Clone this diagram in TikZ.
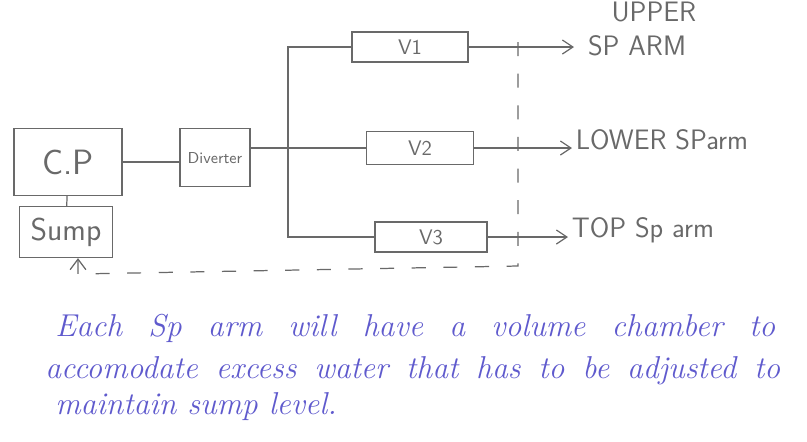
\documentclass[tikz,border=0pt]{standalone}
\usetikzlibrary{arrows.meta}
\definecolor{pencil}{RGB}{105,105,105}
\definecolor{ink}{RGB}{95,90,205}
\tikzset{
  box/.style={draw=pencil, line width=0.7pt, text=pencil, font=\sffamily, inner sep=2pt},
  line/.style={draw=pencil, line width=0.7pt},
  feed/.style={line, -{Straight Barb[length=6pt,width=8pt]}},
  ret/.style={line, dashed, dash pattern=on 8pt off 10pt, -{Straight Barb[length=6pt,width=9pt]}},
  lbl/.style={text=pencil, font=\sffamily\fontsize{16}{19}\selectfont, anchor=west, inner sep=2pt},
  note/.style={text=ink, font=\itshape\fontsize{18}{22}\selectfont, anchor=base west, inner sep=0pt}
}
\begin{document}
\begin{tikzpicture}[x=0.02cm, y=-0.02cm]
  \useasboundingbox (0,0) rectangle (807,441);

  % Pumpe und Sumpf
  \node[box, minimum width=2.16cm, minimum height=1.34cm, font=\sffamily\fontsize{20}{24}\selectfont] (CP) at (68,162) {C.P};
  \node[box, minimum width=1.86cm, minimum height=1.02cm, font=\sffamily\fontsize{18}{22}\selectfont] (Sump) at (66,232) {Sump};
  \draw[line] (CP) -- (Sump);

  % Verteiler
  \node[box, minimum width=1.4cm, minimum height=1.16cm, anchor=north, font=\sffamily\small] (Diverter) at (215,128) {Diverter};
  \draw[line] (CP.east) -- (Diverter.west |- CP.east);

  % Ventile
  \node[box, minimum width=2.32cm, minimum height=0.6cm, font=\sffamily\large] (V1) at (410,47) {V1};
  \node[box, minimum width=2.14cm, minimum height=0.66cm, font=\sffamily\large] (V2) at (420,148) {V2};
  \node[box, minimum width=2.24cm, minimum height=0.6cm, font=\sffamily\large] (V3) at (431,237) {V3};

  \coordinate (jV) at (288,148);
  \draw[line] (Diverter.east |- jV) -- (jV) -- (V2.west);
  \draw[line] (V1.west) -| (jV) |- (V3.west);

  % Sprueharme
  \node[lbl, align=center] (SpUp) at (574,29) {\hspace*{1.2em}UPPER\\SP ARM};
  \node[lbl] (SpLow) at (572,140) {LOWER SParm};
  \node[lbl] (SpTop) at (568,230) {TOP Sp arm};
  \draw[feed] (V1.east) -- (SpUp.west |- V1.east);
  \draw[feed] (V2.east) -- (SpLow.west |- V2.east);
  \draw[feed] (V3.east) -- (SpTop.west |- V3.east);

  % Rueckfuehrung zum Sumpf
  \coordinate (r1) at (518,42);
  \coordinate (r2) at (518,266);
  \coordinate (r3) at (78,274);
  \draw[ret] (r1) -- (r2) -- (r3) -- (Sump.south -| r3);

  % Notiz
  \node[note] (n1) at (55,336) {\makebox[14.4cm][s]{Each Sp arm will have a volume chamber to}};
  \node[note] (n2) at (45,378) {\makebox[14.7cm][s]{accomodate excess water that has to be adjusted to}};
  \node[note] (n3) at (55,414) {maintain sump level.};
\end{tikzpicture}
\end{document}
